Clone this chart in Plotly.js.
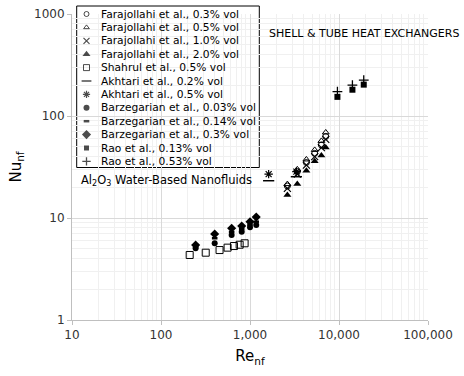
<!DOCTYPE html>
<html><head><meta charset="utf-8">
<script src="https://cdn.plot.ly/plotly-3.0.1.min.js"></script>
<style>html,body{margin:0;padding:0;background:#fff}</style>
</head><body><div id="chart" style="width:464px;height:376px"></div>
<script>
// ---- data ----
const seriesNames = [
  "Farajollahi et al., 0.3% vol",
  "Farajollahi et al., 0.5% vol",
  "Farajollahi et al., 1.0% vol",
  "Farajollahi et al., 2.0% vol",
  "Shahrul et al., 0.5% vol",
  "Akhtari et al., 0.2% vol",
  "Akhtari et al., 0.5% vol",
  "Barzegarian et al., 0.03% vol",
  "Barzegarian et al., 0.14% vol",
  "Barzegarian et al., 0.3% vol",
  "Rao et al., 0.13% vol",
  "Rao et al., 0.53% vol"
];
const farRe = [2630, 3400, 4300, 5330, 6340, 7100];
const far03Nu = [20.6, 28.5, 35, 43, 52, 63];
const far05Nu = [21.5, 30, 37.5, 46.5, 57, 69];
const far10Nu = [19.5, 27, 33, 40, 49, 59];
const far20Nu = [16.8, 21.5, 29.0, 36, 41, 49];
const shaRe = [210, 318, 455, 560, 660, 765, 870];
const shaNu = [4.34, 4.57, 4.85, 5.12, 5.31, 5.47, 5.65];
const akhRe = [1620, 3320];
const akh02Nu = [23.2, 25.4];
const akh05Nu = [26.9, 28.5];
const barRe = [245, 401, 622, 807, 1000, 1175];
const bar003Nu = [5.05, 5.65, 6.81, 7.34, 8.1, 8.53];
const bar014Nu = [5.25, 6.33, 7.3, 7.8, 8.6, 9.2];
const bar03Nu = [5.43, 6.97, 7.93, 8.36, 9.2, 10.2];
const raoRe = [9600, 14150, 18970];
const rao013Nu = [154, 181, 203];
const rao053Nu = [173, 201, 225];
const xTickVals = [10, 100, 1000, 10000, 100000];
const xTickText = ["10", "100", "1,000", "10,000", "100,000"];
const yTickVals = [1, 10, 100, 1000];
const yTickText = ["1", "10", "100", "1000"];

const seriesX = [farRe, farRe, farRe, farRe, shaRe, akhRe, akhRe, barRe, barRe, barRe, raoRe, raoRe];
const seriesY = [far03Nu, far05Nu, far10Nu, far20Nu, shaNu, akh02Nu, akh05Nu, bar003Nu, bar014Nu, bar03Nu, rao013Nu, rao053Nu];

// ---- styles ----
const symbols = ['circle-open','triangle-up-open','x-thin-open','triangle-up','square-open','line-ew-open',
                 'asterisk-open','circle','line-ew-open','diamond','square','cross-thin-open'];
const sizes = [6,6,7,7,7,8,7,6,4,7,6,7];
const lineW = [1,1,1.2,0,1,1.5,1.2,0,2.5,0,0,1.3];

const traces = seriesNames.map((n,i)=>({
  type:'scatter', mode:'markers', name:n, x:seriesX[i], y:seriesY[i], showlegend:false,
  marker:{symbol:symbols[i], size:sizes[i], color:'#000', line:{color:'#000', width:lineW[i]}}
}));

// manual legend (compact rows)
const W = 356, H = 306, L = 72, T = 14;
const rowY0 = 14, rowStep = 13.4;
const legY = seriesNames.map((_,i)=> (T+H - (rowY0 + rowStep*i))/H);
const legSizes = [5,5,6,7,6,7,6,6,4,7,5,6];
traces.push({
  type:'scatter', mode:'markers', xaxis:'x2', yaxis:'y2', showlegend:false, cliponaxis:false, hoverinfo:'skip',
  x: seriesNames.map(()=> (86.5-L)/W), y: legY,
  marker:{symbol:symbols, size:legSizes, color:'#000', line:{color:'#000', width:lineW}}
});

const annotations = seriesNames.map((n,i)=>({
  xref:'paper', yref:'paper', x:(99.3-L)/W, y:legY[i], xanchor:'left', yanchor:'middle',
  text:n, showarrow:false, font:{size:10.7, color:'#000'}
}));
annotations.push({xref:'paper', yref:'paper', x:(267-L)/W, y:(T+H-33)/H, xanchor:'left', yanchor:'middle',
  text:'SHELL &amp; TUBE HEAT EXCHANGERS', showarrow:false, font:{size:11, color:'#000'}});
annotations.push({xref:'paper', yref:'paper', x:(79-L)/W, y:(T+H-180.5)/H, xanchor:'left', yanchor:'middle',
  text:'Al<sub>2</sub>O<sub>3</sub> Water-Based Nanofluids', showarrow:false, font:{size:11.5, color:'#000'}});

function minorVals(lo, hi){ const v=[]; for(let d=lo; d<hi; d++){ for(let k=2;k<=9;k++) v.push(k*Math.pow(10,d)); } return v; }

const axisCommon = {
  type:'log', showgrid:true, gridcolor:'#d9d9d9', gridwidth:1,
  showline:true, linecolor:'#bfbfbf', linewidth:1, ticks:'outside', ticklen:4, tickcolor:'#bfbfbf',
  zeroline:false, tickfont:{size:12, color:'#333'}
};

const layout = {
  width:464, height:376, margin:{l:L, r:464-L-W, t:T, b:376-T-H},
  paper_bgcolor:'#fff', plot_bgcolor:'#fff',
  font:{family:'"DejaVu Sans", Verdana, sans-serif', color:'#000'},
  showlegend:false,
  xaxis:Object.assign({}, axisCommon, {range:[1,5], tickmode:'array', tickvals:xTickVals, ticktext:xTickText,
    minor:{tickmode:'array', tickvals:minorVals(1,5), showgrid:true, gridcolor:'#f0f0f0', ticks:''},
    title:{text:'Re<sub>nf</sub>', font:{size:15, color:'#000'}, standoff:9}}),
  yaxis:Object.assign({}, axisCommon, {range:[0,3], tickmode:'array', tickvals:yTickVals, ticktext:yTickText,
    minor:{tickmode:'array', tickvals:minorVals(0,3), showgrid:true, gridcolor:'#f0f0f0', ticks:''},
    title:{text:'Nu<sub>nf</sub>', font:{size:15, color:'#000'}, standoff:8}}),
  xaxis2:{overlaying:'x', range:[0,1], visible:false, fixedrange:true},
  yaxis2:{overlaying:'y', range:[0,1], visible:false, fixedrange:true},
  shapes:[{type:'rect', xref:'paper', yref:'paper', layer:'between',
    x0:(76.7-L)/W, x1:(259.3-L)/W, y0:(T+H-167.5)/H, y1:(T+H-6)/H,
    line:{color:'#000', width:1}, fillcolor:'#fff'}],
  annotations:annotations
};

Plotly.newPlot('chart', traces, layout, {staticPlot:true, displayModeBar:false});
</script></body></html>
